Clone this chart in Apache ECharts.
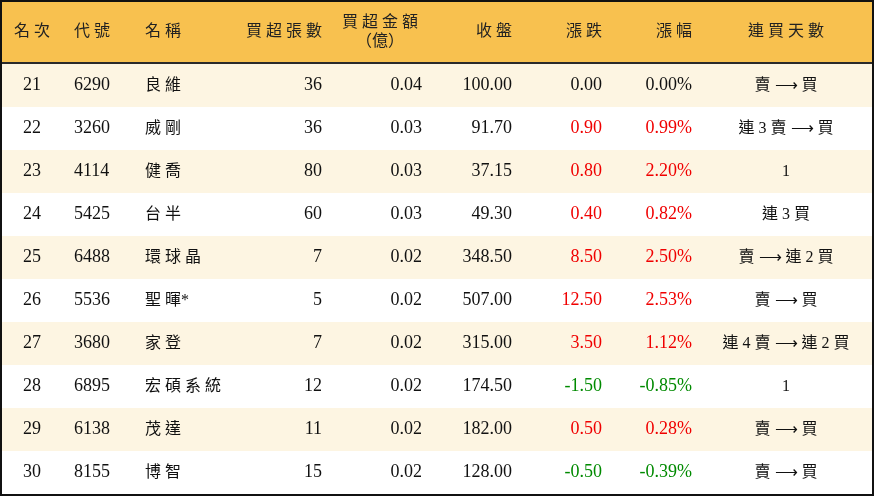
<!DOCTYPE html>
<html><head><meta charset="utf-8">
<script src="https://cdn.jsdelivr.net/npm/echarts@6/dist/echarts.min.js"></script>
<style>html,body{margin:0;padding:0;background:#fff}#c{width:874px;height:496px}</style>
</head><body><div id="c"></div>
<script>
const ranks = ['21','22','23','24','25','26','27','28','29','30'];
const codes = ['6290','3260','4114','5425','6488','5536','3680','6895','6138','8155'];
const names = ['良 維','威 剛','健 喬','台 半','環 球 晶','聖 暉*','家 登','宏 碩 系 統','茂 達','博 智'];
const lots = [36, 36, 80, 60, 7, 5, 7, 12, 11, 15];
const amount = ['0.04','0.03','0.03','0.03','0.02','0.02','0.02','0.02','0.02','0.02'];
const close = ['100.00','91.70','37.15','49.30','348.50','507.00','315.00','174.50','182.00','128.00'];
const change = ['0.00','0.90','0.80','0.40','8.50','12.50','3.50','-1.50','0.50','-0.50'];
const pct = ['0.00%','0.99%','2.20%','0.82%','2.50%','2.53%','1.12%','-0.85%','0.28%','-0.39%'];
const streak = ['賣 ⟶ 買','連 3 賣 ⟶ 買','1','連 3 買','賣 ⟶ 連 2 買','賣 ⟶ 買','連 4 賣 ⟶ 連 2 買','1','賣 ⟶ 買','賣 ⟶ 買'];

// column layout: x anchor + alignment
const cols = [
  { head: '名 次', x: 32, align: 'center', hx: 32, ha: 'center' },
  { head: '代 號', x: 74, align: 'left', hx: 74, ha: 'left' },
  { head: '名 稱', x: 145, align: 'left', hx: 145, ha: 'left' },
  { head: '買 超 張 數', x: 322, align: 'right', hx: 322, ha: 'right' },
  { head: '買 超 金 額\n（億）', x: 422, align: 'right', hx: 380, ha: 'center' },
  { head: '收 盤', x: 512, align: 'right', hx: 512, ha: 'right' },
  { head: '漲 跌', x: 602, align: 'right', hx: 602, ha: 'right' },
  { head: '漲 幅', x: 692, align: 'right', hx: 692, ha: 'right' },
  { head: '連 買 天 數', x: 786, align: 'center', hx: 786, ha: 'center' }
];
const FONT = '"Liberation Serif","Noto Sans CJK TC",serif';
const colorOf = v => parseFloat(v) > 0 ? '#f00000' : parseFloat(v) < 0 ? '#008a00' : '#111';

const rows = ranks.map((r, i) => [i, r, codes[i], names[i], String(lots[i]), amount[i], close[i], change[i], pct[i], streak[i]]);

const chart = echarts.init(document.getElementById('c'));
chart.setOption({
  animation: false,
  grid: { left: 0, right: 0, top: 64, bottom: 2 },
  xAxis: { type: 'value', min: 0, max: 874, show: false },
  yAxis: { type: 'category', data: ranks, inverse: true, show: false },
  graphic: [
    { type: 'rect', shape: { x: 0, y: 0, width: 874, height: 63 }, style: { fill: '#f8c14f' }, z: 1 },
    { type: 'line', shape: { x1: 0, y1: 63, x2: 874, y2: 63 }, style: { stroke: '#2a2a2a', lineWidth: 2 }, z: 2 },
    ...cols.map(c => ({
      type: 'text', x: c.hx, y: 32, z: 3,
      style: { text: c.head, fill: '#222', font: '16px ' + FONT, align: c.ha, verticalAlign: 'middle', lineHeight: 19 }
    })),
    { type: 'rect', shape: { x: 1, y: 1, width: 872, height: 494 }, style: { fill: 'none', stroke: '#111', lineWidth: 2 }, z: 10 }
  ],
  series: [{
    type: 'custom',
    data: rows,
    encode: { y: 0 },
    renderItem: (params, api) => {
      const i = api.value(0);
      const cy = api.coord([0, i])[1];
      const h = api.size([0, 1])[1];
      const d = rows[i];
      const children = [{
        type: 'rect',
        shape: { x: 0, y: cy - h / 2, width: 874, height: h },
        style: { fill: i % 2 === 0 ? '#fdf5e2' : '#ffffff' }
      }];
      cols.forEach((c, k) => {
        const txt = d[k + 1];
        const fill = (k === 6 || k === 7) ? colorOf(txt) : '#111';
        children.push({
          type: 'text', x: c.x, y: cy,
          style: { text: txt, fill, font: (k === 2 || k === 8 ? '16px ' : '18px ') + FONT, align: c.align, verticalAlign: 'middle' }
        });
      });
      return { type: 'group', children };
    }
  }]
});
</script></body></html>
